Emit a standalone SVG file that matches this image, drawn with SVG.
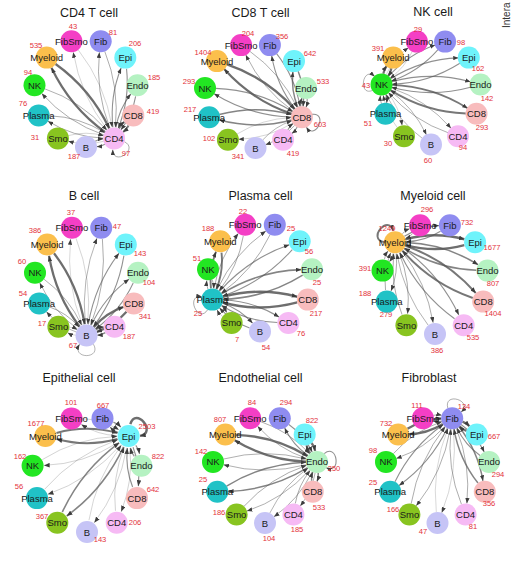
<svg xmlns="http://www.w3.org/2000/svg" width="512" height="567" viewBox="0 0 512 567">
<style>
text{font-family:"Liberation Sans",Arial,sans-serif}
.t{font-size:12.5px;fill:#1a1a1a;text-anchor:middle}
.lb{font-size:9.5px;fill:#1a1a1a;text-anchor:middle;dominant-baseline:central}
.n{font-size:7.6px;fill:#e3323b;text-anchor:middle;dominant-baseline:central}
.side{font-size:10px;fill:#333}
.edges use{fill:none;stroke:#555}
.L1{stroke-width:.5;stroke-opacity:.45}
.L2{stroke-width:.8;stroke-opacity:.55}
.L3{stroke-width:1.1;stroke-opacity:.65}
.L4{stroke-width:1.5;stroke-opacity:.72}
.L5{stroke-width:1.9;stroke-opacity:.8}
.L6{stroke-width:2.3;stroke-opacity:.85}
.FibSmo{fill:#f43fc5}.Fib{fill:#8f8cf0}.Epi{fill:#6ff3fb}.Endo{fill:#b5f2c2}.CD8{fill:#f8bcbd}.CD4{fill:#f6baf4}
.B{fill:#c6c4f6}.Smo{fill:#88c420}.Plasma{fill:#20c2c6}.NK{fill:#22e622}.Myeloid{fill:#fbbf4c}
</style>
<defs>
<marker id="arr" viewBox="0 0 10 8" refX="10" refY="4" markerWidth="5.5" markerHeight="4.4" markerUnits="userSpaceOnUse" orient="auto"><path d="M0,0 L10,4 L0,8 z" fill="#3d3d3d"/></marker>
<path id="e1" d="M52.7,11 Q52.5,15.4 50.3,19.2" marker-end="url(#arr)"/>
<path id="e2" d="M49.6,10.5 Q43.8,28.1 30.1,40.8" marker-end="url(#arr)"/>
<path id="e3" d="M46.8,9.1 Q29.6,34.1 2.3,47.6" marker-end="url(#arr)"/>
<path id="e4" d="M44.5,6.9 Q14.4,31.4 -23.9,38.2" marker-end="url(#arr)"/>
<path id="e5" d="M42.9,4.3 Q3,21 -39.9,16.2" marker-end="url(#arr)"/>
<path id="e6" d="M42.1,1.2 Q-0.9,6 -40.7,-10.7" marker-end="url(#arr)"/>
<path id="e7" d="M42.2,-1.9 Q3.9,-8.6 -26.2,-33.1" marker-end="url(#arr)"/>
<path id="e8" d="M43.1,-4.9 Q15.9,-18.4 -1.3,-43.4" marker-end="url(#arr)"/>
<path id="e9" d="M44.9,-7.5 Q31.2,-20.1 25.5,-37.8" marker-end="url(#arr)"/>
<path id="e10" d="M47.4,-9.4 Q45.1,-13.2 44.9,-17.7" marker-end="url(#arr)"/>
<path id="loop" d="M61.4,-7.1 C76,-16 76,16 61.4,7.1" marker-end="url(#arr)"/>
</defs>
<rect width="512" height="567" fill="#fff"/>
<text class="side" transform="translate(510,28) rotate(-90)">Intera</text>

<!-- Panel 1: CD4 T cell -->
<g id="panel-cd4">
<text class="t" x="89" y="16.5">CD4 T cell</text>
<g id="cd4-edges" class="edges" transform="translate(86,93) scale(.981,1.019)">
<g transform="rotate(57.27)"><use href="#e6" class="L1"/><use href="#e7" class="L2"/><use href="#e8" class="L3"/><use href="#e9" class="L3"/><use href="#e10" class="L5"/><use href="#e1" class="L3"/><use href="#e2" class="L1"/><use href="#e3" class="L2"/><use href="#e4" class="L2"/><use href="#e5" class="L6"/><use href="#loop" class="L2"/></g>
<use href="#e5" class="L1" transform="rotate(-106.36)"/><use href="#e4" class="L2" transform="rotate(-73.64)"/><use href="#e3" class="L3" transform="rotate(-40.91)"/><use href="#e2" class="L3" transform="rotate(-8.18)"/><use href="#e1" class="L5" transform="rotate(24.55)"/><use href="#e10" class="L3" transform="rotate(90)"/><use href="#e9" class="L1" transform="rotate(122.73)"/><use href="#e8" class="L2" transform="rotate(155.45)"/><use href="#e7" class="L2" transform="rotate(188.18)"/><use href="#e6" class="L6" transform="rotate(220.91)"/>
</g>
<g id="cd4-FibSmo"><circle class="FibSmo" cx="71.4" cy="41.2" r="11"/><text class="lb" x="71.4" y="41.2">FibSmo</text><text class="n" x="73" y="26">43</text></g>
<g id="cd4-Fib"><circle class="Fib" cx="100.7" cy="41.2" r="11"/><text class="lb" x="100.7" y="41.2">Fib</text><text class="n" x="113" y="32">81</text></g>
<g id="cd4-Epi"><circle class="Epi" cx="125.3" cy="57.6" r="11"/><text class="lb" x="125.3" y="57.6">Epi</text><text class="n" x="135" y="43">206</text></g>
<g id="cd4-Endo"><circle class="Endo" cx="137.5" cy="85.3" r="11"/><text class="lb" x="137.5" y="85.3">Endo</text><text class="n" x="154" y="77">185</text></g>
<g id="cd4-CD8"><circle class="CD8" cx="133.3" cy="115.4" r="11"/><text class="lb" x="133.3" y="115.4">CD8</text><text class="n" x="153" y="111">419</text></g>
<g id="cd4-CD4"><circle class="CD4" cx="114.1" cy="138.4" r="11"/><text class="lb" x="114.1" y="138.4">CD4</text><text class="n" x="126" y="153">97</text></g>
<g id="cd4-B"><circle class="B" cx="86" cy="147" r="11"/><text class="lb" x="86" y="147">B</text><text class="n" x="74" y="156">187</text></g>
<g id="cd4-Smo"><circle class="Smo" cx="57.9" cy="138.4" r="11"/><text class="lb" x="57.9" y="138.4">Smo</text><text class="n" x="35" y="137">31</text></g>
<g id="cd4-Plasma"><circle class="Plasma" cx="38.7" cy="115.4" r="11"/><text class="lb" x="38.7" y="115.4">Plasma</text><text class="n" x="23" y="103">76</text></g>
<g id="cd4-NK"><circle class="NK" cx="34.5" cy="85.3" r="11"/><text class="lb" x="34.5" y="85.3">NK</text><text class="n" x="28" y="72">94</text></g>
<g id="cd4-Myeloid"><circle class="Myeloid" cx="46.7" cy="57.6" r="11"/><text class="lb" x="46.7" y="57.6">Myeloid</text><text class="n" x="36" y="45">535</text></g>
</g>

<!-- Panel 2: CD8 T cell -->
<g id="panel-cd8">
<text class="t" x="260.5" y="16.5">CD8 T cell</text>
<g id="cd8-edges" class="edges" transform="translate(255.5,95.5) scale(.962,.991)">
<g transform="rotate(24.55)"><use href="#e7" class="L2"/><use href="#e8" class="L3"/><use href="#e9" class="L4"/><use href="#e10" class="L3"/><use href="#e1" class="L3"/><use href="#e2" class="L2"/><use href="#e3" class="L1"/><use href="#e4" class="L4"/><use href="#e5" class="L3"/><use href="#e6" class="L6"/><use href="#loop" class="L3"/></g>
<use href="#e4" class="L2" transform="rotate(-106.36)"/><use href="#e3" class="L3" transform="rotate(-73.64)"/><use href="#e2" class="L4" transform="rotate(-40.91)"/><use href="#e1" class="L3" transform="rotate(-8.18)"/><use href="#e10" class="L3" transform="rotate(57.27)"/><use href="#e9" class="L2" transform="rotate(90)"/><use href="#e8" class="L1" transform="rotate(122.73)"/><use href="#e7" class="L4" transform="rotate(155.45)"/><use href="#e6" class="L3" transform="rotate(188.18)"/><use href="#e5" class="L6" transform="rotate(220.91)"/>
</g>
<g id="cd8-FibSmo"><circle class="FibSmo" cx="241.1" cy="45.1" r="11"/><text class="lb" x="241.1" y="45.1">FibSmo</text><text class="n" x="248" y="33">204</text></g>
<g id="cd8-Fib"><circle class="Fib" cx="269.9" cy="45.1" r="11"/><text class="lb" x="269.9" y="45.1">Fib</text><text class="n" x="282" y="36">356</text></g>
<g id="cd8-Epi"><circle class="Epi" cx="294" cy="61.1" r="11"/><text class="lb" x="294" y="61.1">Epi</text><text class="n" x="310" y="53">642</text></g>
<g id="cd8-Endo"><circle class="Endo" cx="306" cy="88" r="11"/><text class="lb" x="306" y="88">Endo</text><text class="n" x="323" y="81">533</text></g>
<g id="cd8-CD8"><circle class="CD8" cx="301.9" cy="117.3" r="11"/><text class="lb" x="301.9" y="117.3">CD8</text><text class="n" x="320" y="124">603</text></g>
<g id="cd8-CD4"><circle class="CD4" cx="283.1" cy="139.7" r="11"/><text class="lb" x="283.1" y="139.7">CD4</text><text class="n" x="293" y="153">419</text></g>
<g id="cd8-B"><circle class="B" cx="255.5" cy="148" r="11"/><text class="lb" x="255.5" y="148">B</text><text class="n" x="238" y="156">341</text></g>
<g id="cd8-Smo"><circle class="Smo" cx="227.9" cy="139.7" r="11"/><text class="lb" x="227.9" y="139.7">Smo</text><text class="n" x="209" y="138">102</text></g>
<g id="cd8-Plasma"><circle class="Plasma" cx="209.1" cy="117.3" r="11"/><text class="lb" x="209.1" y="117.3">Plasma</text><text class="n" x="190" y="109">217</text></g>
<g id="cd8-NK"><circle class="NK" cx="205" cy="88" r="11"/><text class="lb" x="205" y="88">NK</text><text class="n" x="189" y="81">293</text></g>
<g id="cd8-Myeloid"><circle class="Myeloid" cx="217" cy="61.1" r="11"/><text class="lb" x="217" y="61.1">Myeloid</text><text class="n" x="203" y="52">1404</text></g>
</g>

<!-- Panel 3: NK cell -->
<g id="panel-nk">
<text class="t" x="433" y="16">NK cell</text>
<g id="nk-edges" class="edges" transform="translate(431,92) scale(.943,.991)">
<g transform="rotate(188.18)"><use href="#e2" class="L1"/><use href="#e3" class="L3"/><use href="#e4" class="L3"/><use href="#e5" class="L3"/><use href="#e6" class="L5"/><use href="#e7" class="L2"/><use href="#e8" class="L2"/><use href="#e9" class="L1"/><use href="#e10" class="L2"/><use href="#e1" class="L6"/><use href="#loop" class="L2"/></g>
<use href="#e9" class="L1" transform="rotate(-106.36)"/><use href="#e8" class="L3" transform="rotate(-73.64)"/><use href="#e7" class="L3" transform="rotate(-40.91)"/><use href="#e6" class="L3" transform="rotate(-8.18)"/><use href="#e5" class="L5" transform="rotate(24.55)"/><use href="#e4" class="L2" transform="rotate(57.27)"/><use href="#e3" class="L2" transform="rotate(90)"/><use href="#e2" class="L1" transform="rotate(122.73)"/><use href="#e1" class="L2" transform="rotate(155.45)"/><use href="#e10" class="L6" transform="rotate(220.91)"/>
</g>
<g id="nk-FibSmo"><circle class="FibSmo" cx="416.9" cy="41.6" r="11"/><text class="lb" x="416.9" y="41.6">FibSmo</text><text class="n" x="418" y="29">29</text></g>
<g id="nk-Fib"><circle class="Fib" cx="445.1" cy="41.6" r="11"/><text class="lb" x="445.1" y="41.6">Fib</text><text class="n" x="461" y="42">98</text></g>
<g id="nk-Epi"><circle class="Epi" cx="468.8" cy="57.6" r="11"/><text class="lb" x="468.8" y="57.6">Epi</text><text class="n" x="478" y="68">162</text></g>
<g id="nk-Endo"><circle class="Endo" cx="480.5" cy="84.5" r="11"/><text class="lb" x="480.5" y="84.5">Endo</text><text class="n" x="487" y="98">142</text></g>
<g id="nk-CD8"><circle class="CD8" cx="476.5" cy="113.8" r="11"/><text class="lb" x="476.5" y="113.8">CD8</text><text class="n" x="482" y="127">293</text></g>
<g id="nk-CD4"><circle class="CD4" cx="458" cy="136.2" r="11"/><text class="lb" x="458" y="136.2">CD4</text><text class="n" x="463" y="147">94</text></g>
<g id="nk-B"><circle class="B" cx="431" cy="144.5" r="11"/><text class="lb" x="431" y="144.5">B</text><text class="n" x="428" y="160">60</text></g>
<g id="nk-Smo"><circle class="Smo" cx="404" cy="136.2" r="11"/><text class="lb" x="404" y="136.2">Smo</text><text class="n" x="388" y="143">30</text></g>
<g id="nk-Plasma"><circle class="Plasma" cx="385.5" cy="113.8" r="11"/><text class="lb" x="385.5" y="113.8">Plasma</text><text class="n" x="368" y="123">51</text></g>
<g id="nk-NK"><circle class="NK" cx="381.5" cy="84.5" r="11"/><text class="lb" x="381.5" y="84.5">NK</text><text class="n" x="366" y="85">43</text></g>
<g id="nk-Myeloid"><circle class="Myeloid" cx="393.2" cy="57.6" r="11"/><text class="lb" x="393.2" y="57.6">Myeloid</text><text class="n" x="378" y="48">391</text></g>
</g>

<!-- Panel 4: B cell -->
<g id="panel-b">
<text class="t" x="84" y="200">B cell</text>
<g id="b-edges" class="edges" transform="translate(86.5,280.5) scale(.981,1.038)">
<g transform="rotate(90)"><use href="#e5" class="L1"/><use href="#e6" class="L2"/><use href="#e7" class="L3"/><use href="#e8" class="L3"/><use href="#e9" class="L6"/><use href="#e10" class="L4"/><use href="#e1" class="L1"/><use href="#e2" class="L2"/><use href="#e3" class="L2"/><use href="#e4" class="L6"/><use href="#loop" class="L2"/></g>
<use href="#e6" class="L1" transform="rotate(-106.36)"/><use href="#e5" class="L2" transform="rotate(-73.64)"/><use href="#e4" class="L3" transform="rotate(-40.91)"/><use href="#e3" class="L3" transform="rotate(-8.18)"/><use href="#e2" class="L6" transform="rotate(24.55)"/><use href="#e1" class="L4" transform="rotate(57.27)"/><use href="#e10" class="L1" transform="rotate(122.73)"/><use href="#e9" class="L2" transform="rotate(155.45)"/><use href="#e8" class="L2" transform="rotate(188.18)"/><use href="#e7" class="L6" transform="rotate(220.91)"/>
</g>
<g id="b-FibSmo"><circle class="FibSmo" cx="71.9" cy="227.7" r="11"/><text class="lb" x="71.9" y="227.7">FibSmo</text><text class="n" x="71" y="212">37</text></g>
<g id="b-Fib"><circle class="Fib" cx="101.2" cy="227.7" r="11"/><text class="lb" x="101.2" y="227.7">Fib</text><text class="n" x="117" y="226">47</text></g>
<g id="b-Epi"><circle class="Epi" cx="125.8" cy="244.5" r="11"/><text class="lb" x="125.8" y="244.5">Epi</text><text class="n" x="140" y="253">143</text></g>
<g id="b-Endo"><circle class="Endo" cx="138" cy="272.7" r="11"/><text class="lb" x="138" y="272.7">Endo</text><text class="n" x="149" y="282">104</text></g>
<g id="b-CD8"><circle class="CD8" cx="133.8" cy="303.4" r="11"/><text class="lb" x="133.8" y="303.4">CD8</text><text class="n" x="145" y="316">341</text></g>
<g id="b-CD4"><circle class="CD4" cx="114.6" cy="326.8" r="11"/><text class="lb" x="114.6" y="326.8">CD4</text><text class="n" x="129" y="336">187</text></g>
<g id="b-B"><circle class="B" cx="86.5" cy="335.5" r="11"/><text class="lb" x="86.5" y="335.5">B</text><text class="n" x="73" y="345">67</text></g>
<g id="b-Smo"><circle class="Smo" cx="58.4" cy="326.8" r="11"/><text class="lb" x="58.4" y="326.8">Smo</text><text class="n" x="42" y="323">17</text></g>
<g id="b-Plasma"><circle class="Plasma" cx="39.2" cy="303.4" r="11"/><text class="lb" x="39.2" y="303.4">Plasma</text><text class="n" x="23" y="293">54</text></g>
<g id="b-NK"><circle class="NK" cx="35" cy="272.7" r="11"/><text class="lb" x="35" y="272.7">NK</text><text class="n" x="22" y="261">60</text></g>
<g id="b-Myeloid"><circle class="Myeloid" cx="47.2" cy="244.5" r="11"/><text class="lb" x="47.2" y="244.5">Myeloid</text><text class="n" x="35" y="230">386</text></g>
</g>

<!-- Panel 5: Plasma cell -->
<g id="panel-plasma">
<text class="t" x="260.5" y="200">Plasma cell</text>
<g id="plasma-edges" class="edges" transform="translate(260,277) scale(.991,1.028)">
<g transform="rotate(155.45)"><use href="#e3" class="L2"/><use href="#e4" class="L2"/><use href="#e5" class="L3"/><use href="#e6" class="L4"/><use href="#e7" class="L6"/><use href="#e8" class="L3"/><use href="#e9" class="L3"/><use href="#e10" class="L1"/><use href="#e1" class="L2"/><use href="#e2" class="L5"/><use href="#loop" class="L2"/></g>
<use href="#e8" class="L2" transform="rotate(-106.36)"/><use href="#e7" class="L2" transform="rotate(-73.64)"/><use href="#e6" class="L3" transform="rotate(-40.91)"/><use href="#e5" class="L4" transform="rotate(-8.18)"/><use href="#e4" class="L6" transform="rotate(24.55)"/><use href="#e3" class="L3" transform="rotate(57.27)"/><use href="#e2" class="L3" transform="rotate(90)"/><use href="#e1" class="L1" transform="rotate(122.73)"/><use href="#e10" class="L2" transform="rotate(188.18)"/><use href="#e9" class="L5" transform="rotate(220.91)"/>
</g>
<g id="plasma-FibSmo"><circle class="FibSmo" cx="245.2" cy="224.7" r="11"/><text class="lb" x="245.2" y="224.7">FibSmo</text><text class="n" x="243" y="211">22</text></g>
<g id="plasma-Fib"><circle class="Fib" cx="274.8" cy="224.7" r="11"/><text class="lb" x="274.8" y="224.7">Fib</text><text class="n" x="291" y="228">25</text></g>
<g id="plasma-Epi"><circle class="Epi" cx="299.7" cy="241.3" r="11"/><text class="lb" x="299.7" y="241.3">Epi</text><text class="n" x="309" y="251.5">56</text></g>
<g id="plasma-Endo"><circle class="Endo" cx="312" cy="269.2" r="11"/><text class="lb" x="312" y="269.2">Endo</text><text class="n" x="317" y="282">25</text></g>
<g id="plasma-CD8"><circle class="CD8" cx="307.8" cy="299.6" r="11"/><text class="lb" x="307.8" y="299.6">CD8</text><text class="n" x="316" y="313">217</text></g>
<g id="plasma-CD4"><circle class="CD4" cx="288.4" cy="322.9" r="11"/><text class="lb" x="288.4" y="322.9">CD4</text><text class="n" x="301" y="333">76</text></g>
<g id="plasma-B"><circle class="B" cx="260" cy="331.5" r="11"/><text class="lb" x="260" y="331.5">B</text><text class="n" x="266" y="347">54</text></g>
<g id="plasma-Smo"><circle class="Smo" cx="231.6" cy="322.9" r="11"/><text class="lb" x="231.6" y="322.9">Smo</text><text class="n" x="237" y="339">7</text></g>
<g id="plasma-Plasma"><circle class="Plasma" cx="212.3" cy="299.6" r="11"/><text class="lb" x="212.3" y="299.6">Plasma</text><text class="n" x="198" y="313">25</text></g>
<g id="plasma-NK"><circle class="NK" cx="208" cy="269.2" r="11"/><text class="lb" x="208" y="269.2">NK</text><text class="n" x="197" y="258">51</text></g>
<g id="plasma-Myeloid"><circle class="Myeloid" cx="220.3" cy="241.3" r="11"/><text class="lb" x="220.3" y="241.3">Myeloid</text><text class="n" x="208" y="228">188</text></g>
</g>

<!-- Panel 6: Myeloid cell -->
<g id="panel-myeloid">
<text class="t" x="433" y="200">Myeloid cell</text>
<g id="myeloid-edges" class="edges" transform="translate(435,278.5) scale(1,1.047)">
<g transform="rotate(220.91)"><use href="#e1" class="L2"/><use href="#e2" class="L3"/><use href="#e3" class="L6"/><use href="#e4" class="L4"/><use href="#e5" class="L5"/><use href="#e6" class="L3"/><use href="#e7" class="L2"/><use href="#e8" class="L2"/><use href="#e9" class="L2"/><use href="#e10" class="L2"/><use href="#loop" class="L5"/></g>
<use href="#e10" class="L2" transform="rotate(-106.36)"/><use href="#e9" class="L3" transform="rotate(-73.64)"/><use href="#e8" class="L6" transform="rotate(-40.91)"/><use href="#e7" class="L4" transform="rotate(-8.18)"/><use href="#e6" class="L5" transform="rotate(24.55)"/><use href="#e5" class="L3" transform="rotate(57.27)"/><use href="#e4" class="L2" transform="rotate(90)"/><use href="#e3" class="L2" transform="rotate(122.73)"/><use href="#e2" class="L2" transform="rotate(155.45)"/><use href="#e1" class="L2" transform="rotate(188.18)"/>
</g>
<g id="myeloid-FibSmo"><circle class="FibSmo" cx="420.1" cy="225.3" r="11"/><text class="lb" x="420.1" y="225.3">FibSmo</text><text class="n" x="427" y="209">296</text></g>
<g id="myeloid-Fib"><circle class="Fib" cx="449.9" cy="225.3" r="11"/><text class="lb" x="449.9" y="225.3">Fib</text><text class="n" x="467" y="222">732</text></g>
<g id="myeloid-Epi"><circle class="Epi" cx="475.1" cy="242.2" r="11"/><text class="lb" x="475.1" y="242.2">Epi</text><text class="n" x="492" y="247">1677</text></g>
<g id="myeloid-Endo"><circle class="Endo" cx="487.5" cy="270.6" r="11"/><text class="lb" x="487.5" y="270.6">Endo</text><text class="n" x="493" y="283">807</text></g>
<g id="myeloid-CD8"><circle class="CD8" cx="483.2" cy="301.6" r="11"/><text class="lb" x="483.2" y="301.6">CD8</text><text class="n" x="493" y="313">1404</text></g>
<g id="myeloid-CD4"><circle class="CD4" cx="463.7" cy="325.2" r="11"/><text class="lb" x="463.7" y="325.2">CD4</text><text class="n" x="473" y="337">535</text></g>
<g id="myeloid-B"><circle class="B" cx="435" cy="334" r="11"/><text class="lb" x="435" y="334">B</text><text class="n" x="437" y="350">386</text></g>
<g id="myeloid-Smo"><circle class="Smo" cx="406.4" cy="325.2" r="11"/><text class="lb" x="406.4" y="325.2">Smo</text><text class="n" x="386" y="314">279</text></g>
<g id="myeloid-Plasma"><circle class="Plasma" cx="386.8" cy="301.6" r="11"/><text class="lb" x="386.8" y="301.6">Plasma</text><text class="n" x="365" y="293">188</text></g>
<g id="myeloid-NK"><circle class="NK" cx="382.5" cy="270.6" r="11"/><text class="lb" x="382.5" y="270.6">NK</text><text class="n" x="365" y="268">391</text></g>
<g id="myeloid-Myeloid"><circle class="Myeloid" cx="395" cy="242.2" r="11"/><text class="lb" x="395" y="242.2">Myeloid</text><text class="n" x="387" y="228">1249</text></g>
</g>

<!-- Panel 7: Epithelial cell -->
<g id="panel-epi">
<text class="t" x="79" y="382">Epithelial cell</text>
<g id="epi-edges" class="edges" transform="translate(87,474) scale(1.038,1.094)">
<g transform="rotate(-40.91)"><use href="#e9" class="L1"/><use href="#e10" class="L3"/><use href="#e1" class="L3"/><use href="#e2" class="L3"/><use href="#e3" class="L1"/><use href="#e4" class="L1"/><use href="#e5" class="L4"/><use href="#e6" class="L1"/><use href="#e7" class="L1"/><use href="#e8" class="L5"/><use href="#loop" class="L6"/></g>
<use href="#e2" class="L1" transform="rotate(-106.36)"/><use href="#e1" class="L3" transform="rotate(-73.64)"/><use href="#e10" class="L3" transform="rotate(-8.18)"/><use href="#e9" class="L3" transform="rotate(24.55)"/><use href="#e8" class="L1" transform="rotate(57.27)"/><use href="#e7" class="L1" transform="rotate(90)"/><use href="#e6" class="L4" transform="rotate(122.73)"/><use href="#e5" class="L1" transform="rotate(155.45)"/><use href="#e4" class="L1" transform="rotate(188.18)"/><use href="#e3" class="L5" transform="rotate(220.91)"/>
</g>
<g id="epi-FibSmo"><circle class="FibSmo" cx="71.5" cy="418.4" r="11"/><text class="lb" x="71.5" y="418.4">FibSmo</text><text class="n" x="71" y="402">101</text></g>
<g id="epi-Fib"><circle class="Fib" cx="102.5" cy="418.4" r="11"/><text class="lb" x="102.5" y="418.4">Fib</text><text class="n" x="103" y="405">667</text></g>
<g id="epi-Epi"><circle class="Epi" cx="128.6" cy="436" r="11"/><text class="lb" x="128.6" y="436">Epi</text><text class="n" x="147" y="426">2503</text></g>
<g id="epi-Endo"><circle class="Endo" cx="141.4" cy="465.8" r="11"/><text class="lb" x="141.4" y="465.8">Endo</text><text class="n" x="158" y="456">822</text></g>
<g id="epi-CD8"><circle class="CD8" cx="137" cy="498.1" r="11"/><text class="lb" x="137" y="498.1">CD8</text><text class="n" x="153" y="489">642</text></g>
<g id="epi-CD4"><circle class="CD4" cx="116.7" cy="522.8" r="11"/><text class="lb" x="116.7" y="522.8">CD4</text><text class="n" x="135" y="522">206</text></g>
<g id="epi-B"><circle class="B" cx="87" cy="532" r="11"/><text class="lb" x="87" y="532">B</text><text class="n" x="100" y="539">143</text></g>
<g id="epi-Smo"><circle class="Smo" cx="57.3" cy="522.8" r="11"/><text class="lb" x="57.3" y="522.8">Smo</text><text class="n" x="42" y="516">367</text></g>
<g id="epi-Plasma"><circle class="Plasma" cx="37" cy="498.1" r="11"/><text class="lb" x="37" y="498.1">Plasma</text><text class="n" x="19" y="486">56</text></g>
<g id="epi-NK"><circle class="NK" cx="32.6" cy="465.8" r="11"/><text class="lb" x="32.6" y="465.8">NK</text><text class="n" x="20" y="456">162</text></g>
<g id="epi-Myeloid"><circle class="Myeloid" cx="45.4" cy="436" r="11"/><text class="lb" x="45.4" y="436">Myeloid</text><text class="n" x="36" y="423">1677</text></g>
</g>

<!-- Panel 8: Endothelial cell -->
<g id="panel-endo">
<text class="t" x="260.5" y="382">Endothelial cell</text>
<g id="endo-edges" class="edges" transform="translate(265,469.5) scale(.991,1.009)">
<g transform="rotate(-8.18)"><use href="#e8" class="L2"/><use href="#e9" class="L3"/><use href="#e10" class="L6"/><use href="#e1" class="L4"/><use href="#e2" class="L2"/><use href="#e3" class="L2"/><use href="#e4" class="L2"/><use href="#e5" class="L4"/><use href="#e6" class="L2"/><use href="#e7" class="L6"/><use href="#loop" class="L3"/></g>
<use href="#e3" class="L2" transform="rotate(-106.36)"/><use href="#e2" class="L3" transform="rotate(-73.64)"/><use href="#e1" class="L6" transform="rotate(-40.91)"/><use href="#e10" class="L4" transform="rotate(24.55)"/><use href="#e9" class="L2" transform="rotate(57.27)"/><use href="#e8" class="L2" transform="rotate(90)"/><use href="#e7" class="L2" transform="rotate(122.73)"/><use href="#e6" class="L4" transform="rotate(155.45)"/><use href="#e5" class="L2" transform="rotate(188.18)"/><use href="#e4" class="L6" transform="rotate(220.91)"/>
</g>
<g id="endo-FibSmo"><circle class="FibSmo" cx="250.2" cy="418.2" r="11"/><text class="lb" x="250.2" y="418.2">FibSmo</text><text class="n" x="252" y="402">84</text></g>
<g id="endo-Fib"><circle class="Fib" cx="279.8" cy="418.2" r="11"/><text class="lb" x="279.8" y="418.2">Fib</text><text class="n" x="286" y="402">294</text></g>
<g id="endo-Epi"><circle class="Epi" cx="304.7" cy="434.5" r="11"/><text class="lb" x="304.7" y="434.5">Epi</text><text class="n" x="312" y="420">822</text></g>
<g id="endo-Endo"><circle class="Endo" cx="317" cy="461.9" r="11"/><text class="lb" x="317" y="461.9">Endo</text><text class="n" x="334" y="468">250</text></g>
<g id="endo-CD8"><circle class="CD8" cx="312.8" cy="491.7" r="11"/><text class="lb" x="312.8" y="491.7">CD8</text><text class="n" x="319" y="507">533</text></g>
<g id="endo-CD4"><circle class="CD4" cx="293.4" cy="514.5" r="11"/><text class="lb" x="293.4" y="514.5">CD4</text><text class="n" x="297" y="529">185</text></g>
<g id="endo-B"><circle class="B" cx="265" cy="523" r="11"/><text class="lb" x="265" y="523">B</text><text class="n" x="269" y="538">104</text></g>
<g id="endo-Smo"><circle class="Smo" cx="236.6" cy="514.5" r="11"/><text class="lb" x="236.6" y="514.5">Smo</text><text class="n" x="219" y="512">186</text></g>
<g id="endo-Plasma"><circle class="Plasma" cx="217.3" cy="491.7" r="11"/><text class="lb" x="217.3" y="491.7">Plasma</text><text class="n" x="203" y="479">25</text></g>
<g id="endo-NK"><circle class="NK" cx="213" cy="461.9" r="11"/><text class="lb" x="213" y="461.9">NK</text><text class="n" x="201" y="451">142</text></g>
<g id="endo-Myeloid"><circle class="Myeloid" cx="225.3" cy="434.5" r="11"/><text class="lb" x="225.3" y="434.5">Myeloid</text><text class="n" x="220" y="419">807</text></g>
</g>

<!-- Panel 9: Fibroblast -->
<g id="panel-fib">
<text class="t" x="429" y="382">Fibroblast</text>
<g id="fib-edges" class="edges" transform="translate(437.5,469.5) scale(.981,1.009)">
<g transform="rotate(-73.64)"><use href="#e10" class="L2"/><use href="#e1" class="L6"/><use href="#e2" class="L3"/><use href="#e3" class="L4"/><use href="#e4" class="L2"/><use href="#e5" class="L1"/><use href="#e6" class="L2"/><use href="#e7" class="L3"/><use href="#e8" class="L2"/><use href="#e9" class="L6"/><use href="#loop" class="L2"/></g>
<use href="#e1" class="L2" transform="rotate(-106.36)"/><use href="#e10" class="L6" transform="rotate(-40.91)"/><use href="#e9" class="L3" transform="rotate(-8.18)"/><use href="#e8" class="L4" transform="rotate(24.55)"/><use href="#e7" class="L2" transform="rotate(57.27)"/><use href="#e6" class="L1" transform="rotate(90)"/><use href="#e5" class="L2" transform="rotate(122.73)"/><use href="#e4" class="L3" transform="rotate(155.45)"/><use href="#e3" class="L2" transform="rotate(188.18)"/><use href="#e2" class="L6" transform="rotate(220.91)"/>
</g>
<g id="fib-FibSmo"><circle class="FibSmo" cx="422.9" cy="418.2" r="11"/><text class="lb" x="422.9" y="418.2">FibSmo</text><text class="n" x="417" y="405">111</text></g>
<g id="fib-Fib"><circle class="Fib" cx="452.2" cy="418.2" r="11"/><text class="lb" x="452.2" y="418.2">Fib</text><text class="n" x="464" y="406">134</text></g>
<g id="fib-Epi"><circle class="Epi" cx="476.8" cy="434.5" r="11"/><text class="lb" x="476.8" y="434.5">Epi</text><text class="n" x="494" y="436">667</text></g>
<g id="fib-Endo"><circle class="Endo" cx="489" cy="461.9" r="11"/><text class="lb" x="489" y="461.9">Endo</text><text class="n" x="498" y="474">294</text></g>
<g id="fib-CD8"><circle class="CD8" cx="484.8" cy="491.7" r="11"/><text class="lb" x="484.8" y="491.7">CD8</text><text class="n" x="489" y="503">356</text></g>
<g id="fib-CD4"><circle class="CD4" cx="465.6" cy="514.5" r="11"/><text class="lb" x="465.6" y="514.5">CD4</text><text class="n" x="473" y="526">81</text></g>
<g id="fib-B"><circle class="B" cx="437.5" cy="523" r="11"/><text class="lb" x="437.5" y="523">B</text><text class="n" x="423" y="531">47</text></g>
<g id="fib-Smo"><circle class="Smo" cx="409.4" cy="514.5" r="11"/><text class="lb" x="409.4" y="514.5">Smo</text><text class="n" x="393" y="509">166</text></g>
<g id="fib-Plasma"><circle class="Plasma" cx="390.2" cy="491.7" r="11"/><text class="lb" x="390.2" y="491.7">Plasma</text><text class="n" x="373" y="482">25</text></g>
<g id="fib-NK"><circle class="NK" cx="386" cy="461.9" r="11"/><text class="lb" x="386" y="461.9">NK</text><text class="n" x="373" y="450">98</text></g>
<g id="fib-Myeloid"><circle class="Myeloid" cx="398.2" cy="434.5" r="11"/><text class="lb" x="398.2" y="434.5">Myeloid</text><text class="n" x="386" y="423">732</text></g>
</g>
</svg>
